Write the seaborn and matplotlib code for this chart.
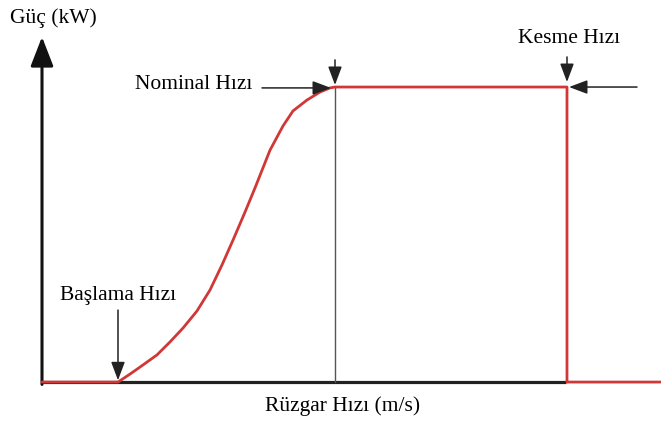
import numpy as np
import pandas as pd
import matplotlib
matplotlib.use("Agg")
import matplotlib.pyplot as plt
import seaborn as sns

# Power curve points (wind speed, % of rated power)
wind = [3.8, 4.4, 5.05, 5.75, 6.4, 7.05, 7.75, 8.4, 9.0, 9.55, 10.15, 10.65,
        11.4, 12.05, 12.55, 13.25, 13.9, 14.4, 14.65]
power = [0, 2.7, 5.8, 9.2, 13.6, 18.3, 24.1, 31.2, 39.7, 48.1, 57.6, 65.8,
         78.6, 86.8, 91.9, 95.6, 98.3, 99.7, 100]
cut_in = 3.8
rated_speed = 14.65
cut_out = 26.25
v_max = 30.95
rated_power = 100

labels = {"cut_in": "Başlama Hızı", "rated": "Nominal Hızı", "cut_out": "Kesme Hızı"}
x_label = "Rüzgar Hızı (m/s)"
y_label = "Güç (kW)"

# full curve: zero before cut-in, rising part, flat part, drop at cut-out
v_all = [0] + wind + [cut_out, cut_out, v_max]
p_all = [0] + power + [rated_power, 0, 0]
df = pd.DataFrame({"v": v_all, "p": p_all})

sns.set_style("white")
plt.rcParams["font.family"] = ["Liberation Serif", "DejaVu Serif"]
plt.rcParams["text.color"] = "black"

fig = plt.figure(figsize=(6.61, 4.21), dpi=100)
ax = fig.add_axes([0, 0, 1, 1])
ax.set_xlim(-2.1, 30.95)
ax.set_ylim(-13.2, 129.5)

red = "#d03838"

# axes drawn by hand (x axis stops at cut-out, y axis has an arrow)
ax.plot([0, cut_out - 0.05], [0, 0], color="#222222", lw=2.3, zorder=1,
        solid_capstyle="butt")
ax.annotate("", xy=(0, 117), xytext=(0, -0.8),
            arrowprops=dict(arrowstyle="-|>,head_length=0.9,head_width=0.35",
                            color="#111111", lw=2.2, mutation_scale=20,
                            shrinkA=0, shrinkB=0))

# rated speed guide line
ax.plot([rated_speed, rated_speed], [0, rated_power], color="#555555", lw=1.0, zorder=1)

sns.lineplot(data=df, x="v", y="p", sort=False, color=red, lw=2.0, ax=ax,
             zorder=3, estimator=None)
ax.axis("off")

arrow = dict(arrowstyle="-|>,head_length=0.8,head_width=0.3", color="#222222",
             lw=1.1, mutation_scale=14, shrinkA=0, shrinkB=0)

# cut-in
ax.annotate("", xy=(cut_in, 0.6), xytext=(cut_in, 24.4), arrowprops=arrow)
ax.text(0.9, 29.5, labels["cut_in"], fontsize=15.5, ha="left", va="center", color="black")

# rated
ax.annotate("", xy=(rated_speed, 100.7), xytext=(rated_speed, 109.2), arrowprops=arrow)
ax.annotate("", xy=(14.45, 99.7), xytext=(11.0, 99.7), arrowprops=arrow)
ax.text(10.5, 100.7, labels["rated"], fontsize=15.5, ha="right", va="center", color="black")

# cut-out
ax.annotate("", xy=(cut_out, 101.7), xytext=(cut_out, 110.2), arrowprops=arrow)
ax.annotate("", xy=(26.35, 100), xytext=(29.75, 100), arrowprops=arrow)
ax.text(26.35, 116.6, labels["cut_out"], fontsize=15.5, ha="center", va="center", color="black")

# axis titles
ax.text(-1.6, 123.4, y_label, fontsize=15.5, ha="left", va="center", color="black")
ax.text(15.05, -8.1, x_label, fontsize=15.5, ha="center", va="center", color="black")

fig.savefig("out.png", dpi=100)
